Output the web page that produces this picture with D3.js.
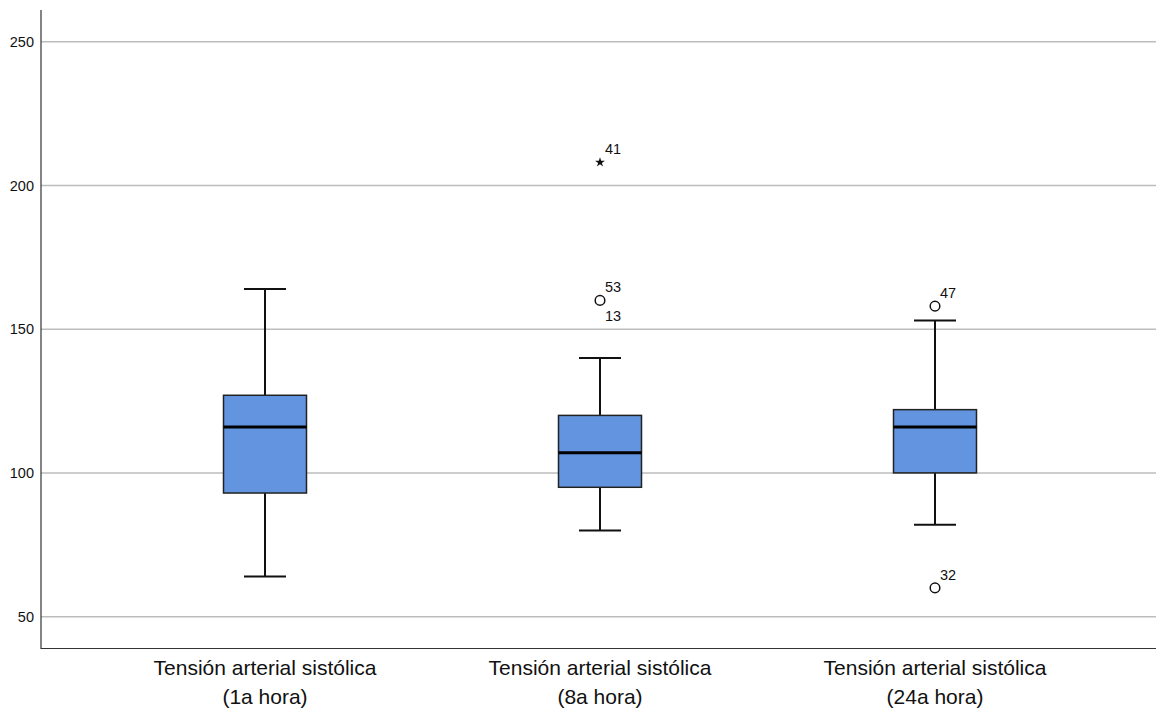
<!DOCTYPE html>
<html><head><meta charset="utf-8">
<script src="https://cdn.jsdelivr.net/npm/d3@7"></script>
<style>body{margin:0;background:#fff}svg{display:block}</style>
</head><body>
<script>
const categories = ["Tensión arterial sistólica|(1a hora)", "Tensión arterial sistólica|(8a hora)", "Tensión arterial sistólica|(24a hora)"];
const whiskerLow = [64, 80, 82];
const q1 = [93, 95, 100];
const median = [116, 107, 116];
const q3 = [127, 120, 122];
const whiskerHigh = [164, 140, 153];
const outliers = [
  {cat: 1, value: 160, type: "circle", labels: ["53", "13"]},
  {cat: 1, value: 208, type: "star", labels: ["41"]},
  {cat: 2, value: 158, type: "circle", labels: ["47"]},
  {cat: 2, value: 60, type: "circle", labels: ["32"]}
];
const yTicks = [50, 100, 150, 200, 250];

const W = 1156, H = 709;
const m = {left: 41, right: 0, top: 10, bottom: 61};
const svg = d3.select("body").append("svg").attr("width", W).attr("height", H);

const y = d3.scaleLinear().domain([39.1, 261]).range([H - m.bottom, m.top]);
const x = d3.scaleBand().domain(d3.range(categories.length)).range([97.5, 1102.5]).padding(0);
const FONT = "Liberation Sans, Arial, Helvetica, sans-serif";

svg.append("g").selectAll("line").data(yTicks).join("line")
  .attr("x1", m.left).attr("x2", W)
  .attr("y1", d => y(d)).attr("y2", d => y(d))
  .attr("stroke", "#bdbdbd").attr("stroke-width", 1.5);

const yAxis = d3.axisLeft(y).tickValues(yTicks).tickSize(0).tickPadding(7);
const ga = svg.append("g").attr("transform", `translate(${m.left},0)`).call(yAxis);
ga.select(".domain").remove();
ga.selectAll("text").attr("font-family", FONT).attr("font-size", 14.5).attr("fill", "#111");

svg.append("line").attr("x1", m.left).attr("x2", m.left).attr("y1", m.top).attr("y2", H - m.bottom + 1)
  .attr("stroke", "#333").attr("stroke-width", 1.2);
svg.append("line").attr("x1", m.left).attr("x2", W).attr("y1", H - m.bottom + 0.5).attr("y2", H - m.bottom + 0.5)
  .attr("stroke", "#333").attr("stroke-width", 1.2);

const boxW = 83, capW = 42;
categories.forEach((c, i) => {
  const cx = x(i) + x.bandwidth() / 2;
  const g = svg.append("g");
  g.append("line").attr("x1", cx).attr("x2", cx).attr("y1", y(whiskerHigh[i])).attr("y2", y(q3[i])).attr("stroke", "#111").attr("stroke-width", 2);
  g.append("line").attr("x1", cx).attr("x2", cx).attr("y1", y(q1[i])).attr("y2", y(whiskerLow[i])).attr("stroke", "#111").attr("stroke-width", 2);
  g.append("line").attr("x1", cx - capW/2).attr("x2", cx + capW/2).attr("y1", y(whiskerHigh[i])).attr("y2", y(whiskerHigh[i])).attr("stroke", "#111").attr("stroke-width", 2);
  g.append("line").attr("x1", cx - capW/2).attr("x2", cx + capW/2).attr("y1", y(whiskerLow[i])).attr("y2", y(whiskerLow[i])).attr("stroke", "#111").attr("stroke-width", 2);
  g.append("rect").attr("x", cx - boxW/2).attr("width", boxW)
    .attr("y", y(q3[i])).attr("height", y(q1[i]) - y(q3[i]))
    .attr("fill", "#6394E0").attr("stroke", "#222").attr("stroke-width", 1.5);
  g.append("line").attr("x1", cx - boxW/2).attr("x2", cx + boxW/2).attr("y1", y(median[i])).attr("y2", y(median[i])).attr("stroke", "#000").attr("stroke-width", 3);
  const parts = c.split("|");
  const t = g.append("text").attr("x", cx).attr("y", 675).attr("text-anchor", "middle")
    .attr("font-family", FONT).attr("font-size", 21).attr("fill", "#111");
  parts.forEach((p, k) => t.append("tspan").attr("x", cx).attr("dy", k === 0 ? 0 : 29).text(p));
});

outliers.forEach(o => {
  const cx = x(o.cat) + x.bandwidth() / 2;
  const cy = y(o.value);
  if (o.type === "circle") {
    svg.append("circle").attr("cx", cx).attr("cy", cy).attr("r", 4.8).attr("fill", "none").attr("stroke", "#111").attr("stroke-width", 1.5);
  } else {
    svg.append("path").attr("transform", `translate(${cx},${cy})`)
      .attr("d", d3.symbol(d3.symbolStar, 30)()).attr("fill", "#111");
  }
  o.labels.forEach((lab, k) => {
    svg.append("text").attr("x", cx + 5).attr("y", k === 0 ? cy - 8 : cy + 21)
      .attr("font-family", FONT).attr("font-size", 14.5).attr("fill", "#111").text(lab);
  });
});
</script>
</body></html>
